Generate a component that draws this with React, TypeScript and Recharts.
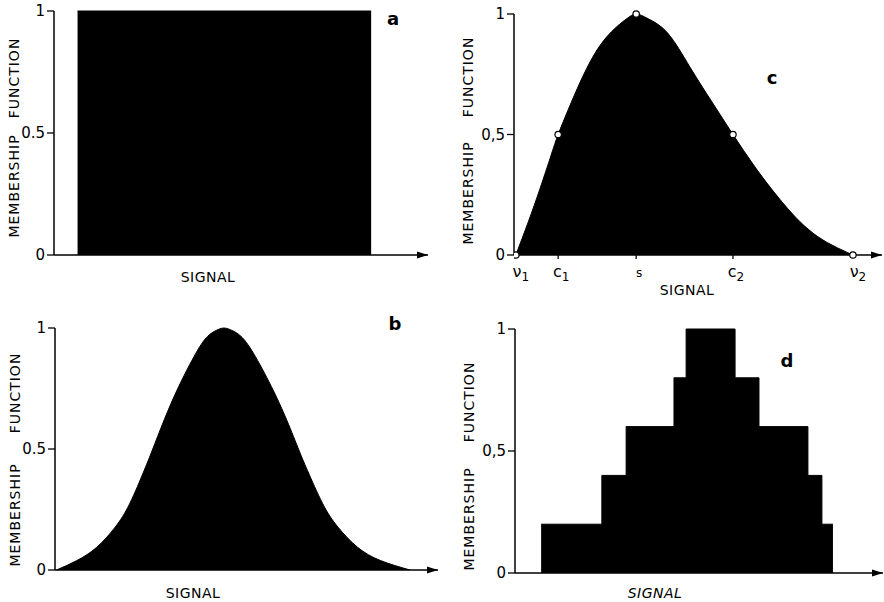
import React from 'react';
import { ComposedChart, Area, XAxis, YAxis, Scatter, ReferenceDot, Customized } from 'recharts';

const FONT = "'DejaVu Sans', sans-serif";
const INK = '#000';

// a - rectangular membership
const rectSignal = [6.3, 84.8];
const rectMembership = [1, 1];

// b - bell shaped
const bellSignal = [0.4, 5.7, 10.9, 15.7, 19.5, 23.3, 25.4, 28.5, 32.3, 36.8, 39.8, 42.1, 44.1, 46.2, 48.6, 51.8, 56.5, 60.5, 63.7, 65.9, 69.9, 73.9, 79.0, 85.0, 92.7];
const bellMembership = [0, 0.039, 0.094, 0.177, 0.274, 0.412, 0.495, 0.62, 0.758, 0.896, 0.965, 0.99, 1, 0.99, 0.965, 0.896, 0.758, 0.62, 0.495, 0.412, 0.274, 0.177, 0.094, 0.039, 0];

// c - asymmetric curve with key points
const skewSignal = [0.5, 3.9, 7.1, 10.1, 12.0, 15.2, 19.3, 23.4, 27.4, 30.6, 33.2, 36.5, 41.8, 47.8, 53.8, 59.5, 65.5, 72.3, 81.3, 92.1];
const skewMembership = [0, 0.138, 0.277, 0.415, 0.5, 0.62, 0.76, 0.87, 0.94, 0.98, 1, 0.98, 0.92, 0.78, 0.635, 0.5, 0.365, 0.23, 0.09, 0];
const keySignal = [0.5, 12.0, 33.2, 59.5, 92.1];
const keyMembership = [0, 0.5, 1, 0.5, 0];
const keyBase = ['ν', 'c', 's', 'c', 'ν'];
const keySub = ['1', '1', '', '2', '2'];

// d - stepped
const stepSignal = [7.1, 23.6, 30.2, 43.2, 46.5, 59.8, 66.3, 79.6, 83.4, 86.4];
const stepMembership = [0.2, 0.4, 0.6, 0.8, 1, 0.8, 0.6, 0.4, 0.2, 0.2];

const yTicks = [0, 0.5, 1];

const zip = (xs: number[], ys: number[]) => xs.map((x, i) => ({ signal: x, membership: ys[i] }));

const Arrow = (props: any) => {
  const { cx, cy } = props;
  return <path d={`M${cx - 11},${cy - 3.5}L${cx},${cy}L${cx - 11},${cy + 3.5}Z`} fill={INK} />;
};

const KeyTick = (props: any) => {
  const { x, y, payload } = props;
  const i = keySignal.indexOf(payload.value);
  const edge = i === 0 || i === keySignal.length - 1;
  return (
    <g>
      {!edge && <line x1={x} y1={y - 9} x2={x} y2={y - 4} stroke={INK} strokeWidth={1.3} />}
      <text x={x + (edge ? 5 : 3)} y={y + 14} textAnchor="middle" fontFamily={FONT} fontSize={keyBase[i] === 's' ? 12 : 16} fill={INK}>
        {keyBase[i]}
        {keySub[i] && (
          <tspan dy={4} fontSize={12}>{keySub[i]}</tspan>
        )}
      </text>
    </g>
  );
};

type TitleProps = { tx: number; funcY: number; memY: number; sx: number; sy: number; letter: string; lx: number; ly: number; italic?: boolean; bold?: boolean };

const Titles = ({ tx, funcY, memY, sx, sy, letter, lx, ly, italic, bold }: TitleProps) => (
  <g fontFamily={FONT} fill={INK}>
    <text transform={`translate(${tx},${funcY}) rotate(-90)`} textAnchor="middle" dominantBaseline="central" fontSize={14} letterSpacing={1}>FUNCTION</text>
    <text transform={`translate(${tx},${memY}) rotate(-90)`} textAnchor="middle" dominantBaseline="central" fontSize={14} letterSpacing={1}>MEMBERSHIP</text>
    <text x={sx} y={sy} textAnchor="middle" dominantBaseline="central" fontSize={14} fontStyle={italic ? 'italic' : 'normal'} letterSpacing={0.5}>SIGNAL</text>
    <text x={lx} y={ly} textAnchor="middle" dominantBaseline="central" fontSize={18} fontWeight={bold ? 'bold' : 600}>{letter}</text>
  </g>
);

type PanelProps = {
  left: number;
  top: number;
  width: number;
  height: number;
  margin: { top: number; right: number; bottom: number; left: number };
  xAxisHeight: number;
  data: { signal: number; membership: number }[];
  curve: 'linear' | 'natural' | 'stepAfter';
  comma?: boolean;
  keyed?: boolean;
  titles: TitleProps;
};

function Panel({ left, top, width, height, margin, xAxisHeight, data, curve, comma, keyed, titles }: PanelProps) {
  const fmt = (v: number) => (v === 0.5 ? (comma ? '0,5' : '0.5') : String(v));
  return (
    <div style={{ position: 'absolute', left, top, width, height }}>
      <ComposedChart width={width} height={height} data={data} margin={margin}>
        <XAxis
          dataKey="signal"
          type="number"
          domain={[0, 100]}
          allowDataOverflow
          height={xAxisHeight}
          axisLine={{ stroke: INK, strokeWidth: 1.5 }}
          tickLine={false}
          ticks={keyed ? keySignal : []}
          tick={keyed ? <KeyTick /> : false}
          interval={0}
        />
        <YAxis
          type="number"
          domain={[0, 1]}
          ticks={yTicks}
          width={40}
          tickSize={7}
          tickMargin={2}
          tickFormatter={fmt}
          axisLine={{ stroke: INK, strokeWidth: 1.5 }}
          tickLine={{ stroke: INK, strokeWidth: 1.3 }}
          tick={{ fill: INK, fontSize: 15, fontFamily: FONT }}
        />
        <Area
          dataKey="membership"
          type={curve}
          fill={INK}
          fillOpacity={1}
          stroke={INK}
          strokeWidth={1}
          isAnimationActive={false}
          dot={false}
          activeDot={false}
        />
        {keyed && (
          <Scatter
            data={zip(keySignal, keyMembership)}
            dataKey="membership"
            fill="#fff"
            stroke={INK}
            strokeWidth={1.2}
            isAnimationActive={false}
            shape={(p: any) => <circle cx={p.cx} cy={p.cy} r={3.2} fill="#fff" stroke={INK} strokeWidth={1.2} />}
          />
        )}
        <ReferenceDot x={100} y={0} r={0} shape={<Arrow />} ifOverflow="visible" />
        <Customized component={<Titles {...titles} />} />
      </ComposedChart>
    </div>
  );
}

export default function App() {
  return (
    <div style={{ position: 'absolute', left: 0, top: 0, width: 884, height: 602, background: '#fff', overflow: 'hidden' }}>
      <Panel
        left={0}
        top={0}
        width={440}
        height={300}
        margin={{ top: 11, right: 12, bottom: 15, left: 14 }}
        xAxisHeight={30}
        data={zip(rectSignal, rectMembership)}
        curve="linear"
        titles={{ tx: 14, funcY: 78, memY: 186, sx: 208, sy: 277, letter: 'a', lx: 393, ly: 18, italic: false }}
      />
      <Panel
        left={0}
        top={300}
        width={440}
        height={302}
        margin={{ top: 28, right: 2, bottom: 2, left: 15 }}
        xAxisHeight={30}
        data={zip(bellSignal, bellMembership)}
        curve="natural"
        titles={{ tx: 15, funcY: 93, memY: 215, sx: 193, sy: 293, letter: 'b', lx: 395, ly: 23, bold: true }}
      />
      <Panel
        left={440}
        top={0}
        width={444}
        height={300}
        margin={{ top: 14, right: 2, bottom: 15, left: 34 }}
        xAxisHeight={30}
        data={zip(skewSignal, skewMembership)}
        curve="natural"
        comma
        keyed
        titles={{ tx: 28, funcY: 77, memY: 193, sx: 247, sy: 290, letter: 'c', lx: 332, ly: 77 }}
      />
      <Panel
        left={440}
        top={300}
        width={444}
        height={302}
        margin={{ top: 29, right: 1, bottom: 0, left: 35 }}
        xAxisHeight={29}
        data={zip(stepSignal, stepMembership)}
        curve="stepAfter"
        comma
        titles={{ tx: 29, funcY: 102, memY: 219, sx: 215, sy: 293, letter: 'd', lx: 347, ly: 60, italic: true }}
      />
    </div>
  );
}
